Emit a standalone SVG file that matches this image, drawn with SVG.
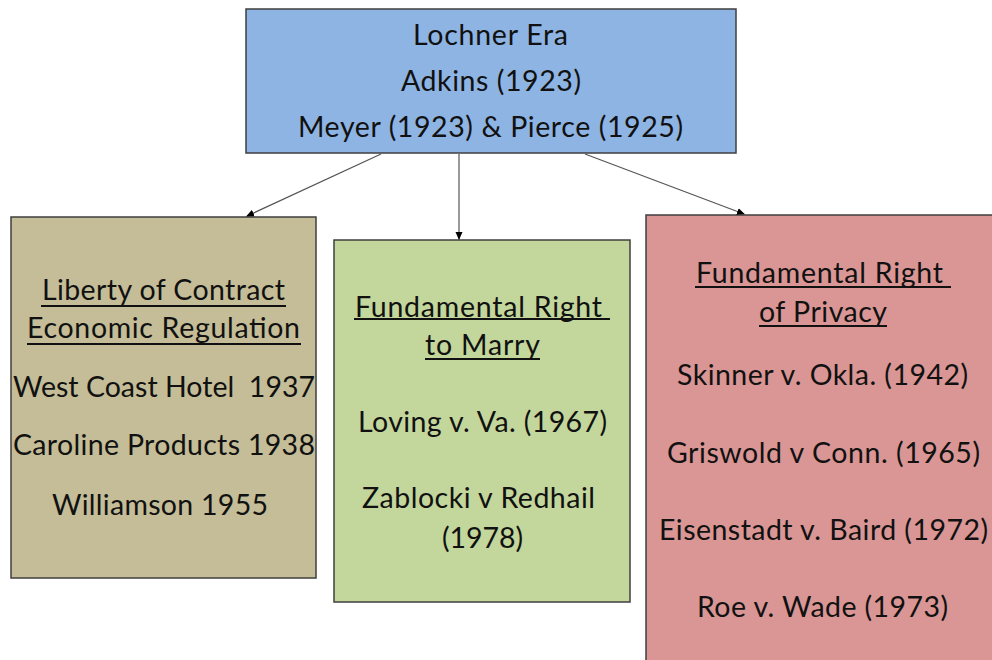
<svg xmlns="http://www.w3.org/2000/svg" width="992" height="660" viewBox="0 0 992 660">
<defs>
<marker id="ah" markerWidth="8" markerHeight="8" refX="7" refY="4" orient="auto" markerUnits="userSpaceOnUse">
<path d="M0,0.5 L8,4 L0,7.5 Z" fill="#000"/>
</marker>
<style>
.box{stroke:#3f3f3f;stroke-width:1.5}
.t{font-family:Lato,"Open Sans","Liberation Sans",sans-serif;font-size:28.5px;fill:#111;text-anchor:middle;white-space:pre}
.u{stroke:#111;stroke-width:1.8}
.c{stroke:#555;stroke-width:1.2;fill:none}
</style>
</defs>
<rect width="992" height="660" fill="#fff"/>
<g id="lochner">
<rect class="box" x="246" y="9" width="490" height="144" fill="#8eb4e3"/>
<text class="t" x="490.5" y="45" textLength="155">Lochner Era</text>
<text class="t" x="491" y="91" textLength="180">Adkins (1923)</text>
<text class="t" x="490.5" y="137" textLength="385">Meyer (1923) &amp; Pierce (1925)</text>
</g>
<g id="contract">
<rect class="box" x="11" y="217" width="305" height="361" fill="#c4bd97"/>
<text class="t" x="163.5" y="300" textLength="243">Liberty of Contract</text>
<line class="u" x1="41" y1="306" x2="286" y2="306"/>
<text class="t" x="163.5" y="338" textLength="273">Economic Regulation</text>
<line class="u" x1="27" y1="344" x2="301" y2="344"/>
<text class="t" x="164" y="397" textLength="302" xml:space="preserve">West Coast Hotel  1937</text>
<text class="t" x="164" y="455" textLength="302">Caroline Products 1938</text>
<text class="t" x="160" y="515" textLength="216">Williamson 1955</text>
</g>
<g id="marry">
<rect class="box" x="334" y="240" width="296" height="362" fill="#c3d69b"/>
<text class="t" x="478.5" y="317" textLength="247">Fundamental Right</text>
<line class="u" x1="354" y1="319" x2="610" y2="319"/>
<text class="t" x="482.5" y="355" textLength="115">to Marry</text>
<line class="u" x1="425" y1="359" x2="540" y2="359"/>
<text class="t" x="482.5" y="432" textLength="249">Loving v. Va. (1967)</text>
<text class="t" x="478.5" y="508" textLength="233">Zablocki v Redhail</text>
<text class="t" x="482.5" y="548" textLength="81">(1978)</text>
</g>
<g id="privacy">
<rect class="box" x="646" y="215" width="360" height="460" fill="#d99694"/>
<text class="t" x="819.5" y="283" textLength="247">Fundamental Right</text>
<line class="u" x1="695" y1="287" x2="951" y2="287"/>
<text class="t" x="823" y="322" textLength="128">of Privacy</text>
<line class="u" x1="759" y1="326" x2="887" y2="326"/>
<text class="t" x="822.5" y="385" textLength="291">Skinner v. Okla. (1942)</text>
<text class="t" x="823.5" y="463" textLength="313">Griswold v Conn. (1965)</text>
<text class="t" x="823.5" y="540" textLength="329">Eisenstadt v. Baird (1972)</text>
<text class="t" x="822.5" y="617" textLength="251">Roe v. Wade (1973)</text>
</g>
<g id="connectors">
<line class="c" x1="381" y1="154" x2="247" y2="216" marker-end="url(#ah)"/>
<line class="c" x1="459" y1="154" x2="459" y2="239" marker-end="url(#ah)"/>
<line class="c" x1="585" y1="154" x2="744" y2="214" marker-end="url(#ah)"/>
</g>
</svg>
